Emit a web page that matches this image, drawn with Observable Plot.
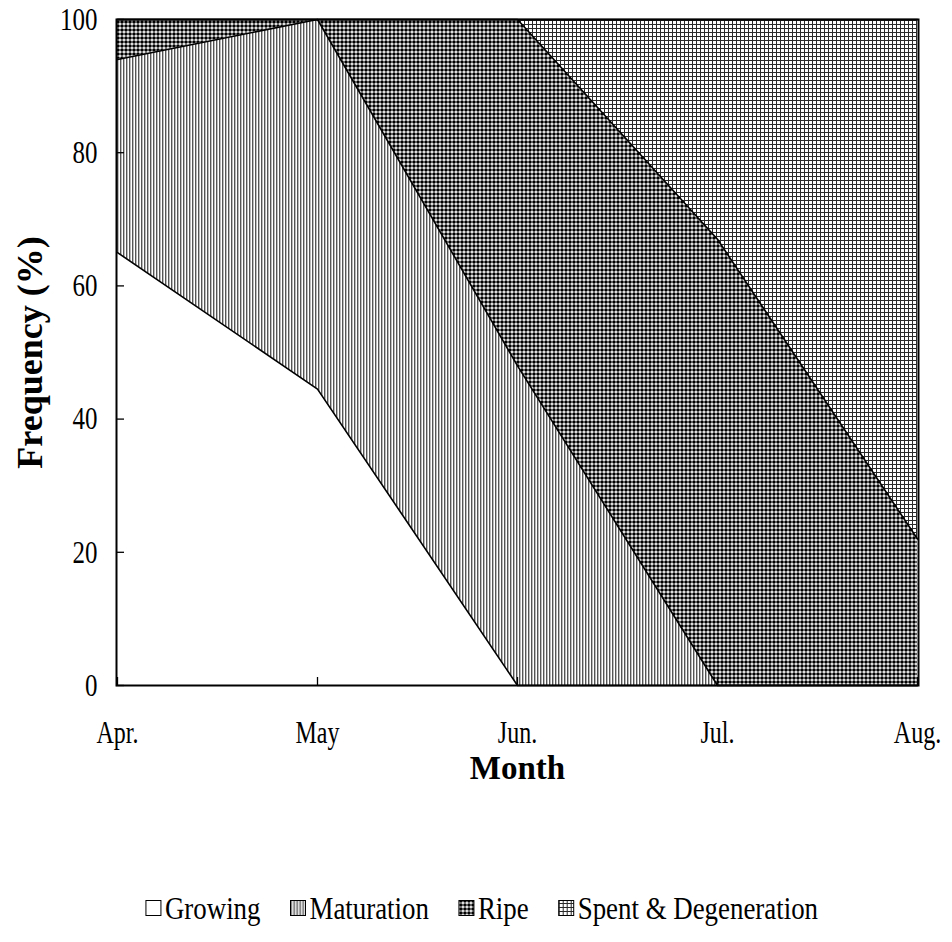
<!DOCTYPE html>
<html><head><meta charset="utf-8">
<script src="https://cdn.jsdelivr.net/npm/d3@7"></script>
<script src="https://cdn.jsdelivr.net/npm/@observablehq/plot@0.6"></script>
<style>body{margin:0;background:#fff;} #chart{width:952px;} svg{display:block;}</style>
</head><body><div id="chart"></div>
<script>
const months = ["Apr.", "May", "Jun.", "Jul.", "Aug."];
const stages = ["Growing", "Maturation", "Ripe", "Spent & Degeneration"];
const growing = [65, 44.5, 0, 0, 0];
const maturation = [29, 55.5, 48, 0, 0];
const ripe = [6, 0, 52, 67, 22];
const spent = [0, 0, 0, 33, 78];
const yTicks = [0, 20, 40, 60, 80, 100];

const series = [growing, maturation, ripe, spent];
const data = stages.flatMap((s, i) => months.map((m, j) => ({stage: s, month: m, value: series[i][j]})));
const fills = ["#ffffff", "url(#pMat)", "url(#pRipe)", "url(#pSpent)"];
const FONT = "'Liberation Serif', 'Times New Roman', serif";

function addPatterns(svg) {
  const defs = svg.insert("defs", ":first-child");
  const m = defs.append("pattern").attr("id", "pMat").attr("patternUnits", "userSpaceOnUse").attr("width", 3).attr("height", 3);
  m.append("rect").attr("width", 3).attr("height", 3).attr("fill", "#fff");
  m.append("rect").attr("x", 0).attr("width", 1.4).attr("height", 3).attr("fill", "#555");
  const r = defs.append("pattern").attr("id", "pRipe").attr("patternUnits", "userSpaceOnUse").attr("width", 4).attr("height", 4);
  r.append("rect").attr("width", 4).attr("height", 4).attr("fill", "#fff");
  r.append("circle").attr("cx", 2).attr("cy", 2).attr("r", 1.8).attr("fill", "#000");
  const s = defs.append("pattern").attr("id", "pSpent").attr("patternUnits", "userSpaceOnUse").attr("width", 4).attr("height", 4);
  s.append("rect").attr("width", 4).attr("height", 4).attr("fill", "#fff");
  s.append("rect").attr("x", 0).attr("y", 0).attr("width", 4).attr("height", 1).attr("fill", "#2a2a2a");
  s.append("rect").attr("x", 0).attr("y", 0).attr("width", 1).attr("height", 4).attr("fill", "#2a2a2a");
}

const plot = Plot.plot({
  width: 952, height: 815,
  marginTop: 19, marginBottom: 130, marginLeft: 116, marginRight: 34,
  style: {fontFamily: FONT, background: "#fff", color: "#000"},
  x: {type: "point", domain: months, padding: 0},
  y: {domain: [0, 100]},
  color: {type: "ordinal", domain: stages, range: fills},
  marks: [
    Plot.areaY(data, Plot.stackY({x: "month", y: "value", z: "stage", fill: "stage"})),
    Plot.lineY(data, Plot.stackY2({x: "month", y: "value", z: "stage", stroke: "#000", strokeWidth: 1.6})),
    Plot.axisX({tickSize: -8, fill: "none", strokeWidth: 1.3, label: null}),
    Plot.axisX({tickSize: 0, tickPadding: 35, fontSize: 32, label: null}),
    Plot.axisY({ticks: yTicks, tickSize: -8, fill: "none", strokeWidth: 1.3, label: null}),
    Plot.axisY({ticks: yTicks, tickSize: 0, tickPadding: 19, fontSize: 32, label: null}),
    Plot.frame({stroke: "#000", strokeWidth: 2}),
    Plot.text(["Frequency (%)"], {frameAnchor: "left", textAnchor: "middle", lineAnchor: "middle", rotate: -90, dx: -86, fontSize: 36, fontWeight: "bold"}),
    Plot.text(["Month"], {frameAnchor: "bottom", textAnchor: "middle", lineAnchor: "middle", dy: 83, fontSize: 33, fontWeight: "bold"})
  ]
});
const chart = document.getElementById("chart");
chart.appendChild(plot);
addPatterns(d3.select(plot));

// tick labels: condensed to mimic the narrow Times rendering of the original
const tickTexts = new Set([...months, ...yTicks.map(String)]);
d3.select(plot).selectAll("text").filter(function () { return tickTexts.has(this.textContent.trim()); }).each(function () {
  const len = this.getComputedTextLength();
  const k = months.includes(this.textContent.trim()) ? 0.75 : 0.78;
  this.setAttribute("textLength", len * k);
  this.setAttribute("lengthAdjust", "spacingAndGlyphs");
});

// legend
const lg = d3.select(chart).append("svg").attr("width", 952).attr("height", 127);
addPatterns(lg);
const cy = 93, box = 15, gapBox = 4, gapItem = 30, squeeze = 0.84;
const items = stages.map((s, i) => {
  const g = lg.append("g");
  g.append("rect").attr("y", cy - box / 2).attr("width", box).attr("height", box)
    .attr("fill", fills[i]).attr("stroke", "#000").attr("stroke-width", 1);
  const t = g.append("text").attr("x", box + gapBox).attr("y", cy + 11)
    .attr("font-family", FONT).attr("font-size", 32).text(s);
  const len = t.node().getComputedTextLength() * squeeze;
  t.attr("textLength", len).attr("lengthAdjust", "spacingAndGlyphs");
  return {g, w: box + gapBox + len};
});
const total = d3.sum(items, d => d.w) + gapItem * (items.length - 1);
let cx = 482 - total / 2;
items.forEach(d => { d.g.attr("transform", `translate(${cx},0)`); cx += d.w + gapItem; });
</script>
</body></html>
